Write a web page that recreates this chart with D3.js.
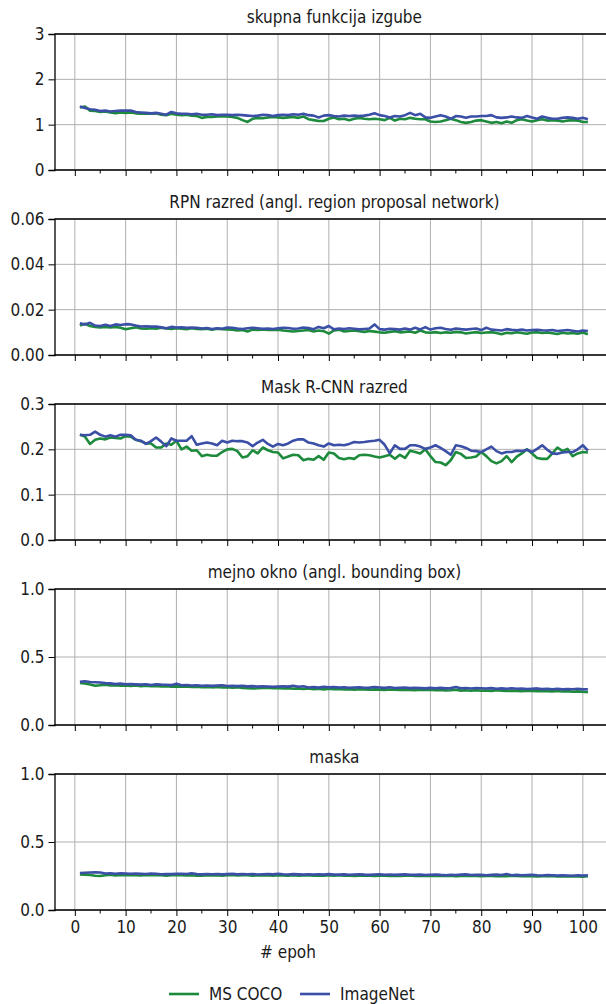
<!DOCTYPE html>
<html>
<meta charset="utf-8">
<head>
  <script src="https://d3js.org/d3.v7.min.js"></script>
  <style>
    body { margin: 0; background: #fff; }
    text { font-family: "DejaVu Sans", sans-serif; fill: #1a1a1a; }
  </style>
</head>
<body>
<svg id="graph" width="606" height="1004"></svg>
<script>
// epochs 1..101
var epochs = d3.range(1, 102);
var seriesNames = ["MS COCO", "ImageNet"];
var colors = ["#1d8a3c", "#3b4fa7"];

var totalCoco = [
  1.38,1.40,1.31,1.30,1.28,1.29,1.27,1.25,1.27,1.26,
  1.27,1.25,1.24,1.25,1.24,1.25,1.22,1.21,1.24,1.22,
  1.21,1.22,1.20,1.19,1.15,1.17,1.17,1.18,1.18,1.18,
  1.17,1.15,1.10,1.06,1.13,1.15,1.14,1.16,1.17,1.16,
  1.15,1.16,1.17,1.15,1.18,1.12,1.10,1.08,1.08,1.13,
  1.16,1.12,1.13,1.10,1.13,1.15,1.13,1.12,1.13,1.12,
  1.10,1.15,1.09,1.13,1.12,1.15,1.13,1.12,1.12,1.07,
  1.06,1.07,1.10,1.13,1.10,1.06,1.04,1.06,1.09,1.10,
  1.07,1.04,1.06,1.03,1.07,1.04,1.10,1.12,1.09,1.07,
  1.10,1.12,1.09,1.10,1.09,1.07,1.09,1.10,1.09,1.06,1.06];
var totalImagenet = [
  1.40,1.37,1.34,1.33,1.30,1.31,1.29,1.30,1.31,1.31,
  1.31,1.28,1.27,1.26,1.25,1.26,1.24,1.22,1.28,1.25,
  1.24,1.24,1.23,1.24,1.22,1.22,1.23,1.21,1.22,1.22,
  1.21,1.22,1.21,1.20,1.19,1.20,1.22,1.21,1.19,1.21,
  1.22,1.21,1.23,1.22,1.24,1.21,1.20,1.16,1.20,1.21,
  1.19,1.18,1.20,1.19,1.20,1.19,1.20,1.22,1.25,1.21,
  1.19,1.16,1.19,1.18,1.21,1.26,1.21,1.24,1.16,1.15,
  1.18,1.21,1.18,1.13,1.19,1.18,1.15,1.18,1.18,1.19,
  1.19,1.21,1.16,1.15,1.16,1.18,1.16,1.15,1.19,1.16,
  1.13,1.18,1.15,1.13,1.13,1.15,1.16,1.15,1.13,1.15,1.12];

var rpnCoco = [
  0.0130,0.0138,0.0128,0.0124,0.0122,0.0124,0.0121,0.0124,0.0120,0.0114,
  0.0118,0.0122,0.0117,0.0116,0.0118,0.0116,0.0120,0.0117,0.0115,0.0118,
  0.0116,0.0114,0.0118,0.0115,0.0114,0.0116,0.0112,0.0116,0.0114,0.0113,
  0.0112,0.0108,0.0110,0.0104,0.0112,0.0110,0.0113,0.0111,0.0110,0.0112,
  0.0108,0.0106,0.0104,0.0106,0.0108,0.0110,0.0104,0.0108,0.0105,0.0094,
  0.0108,0.0112,0.0104,0.0106,0.0108,0.0105,0.0102,0.0106,0.0103,0.0100,
  0.0098,0.0102,0.0105,0.0100,0.0102,0.0104,0.0098,0.0108,0.0100,0.0098,
  0.0101,0.0097,0.0100,0.0098,0.0102,0.0100,0.0095,0.0098,0.0101,0.0097,
  0.0099,0.0101,0.0097,0.0092,0.0098,0.0096,0.0100,0.0097,0.0094,0.0099,
  0.0100,0.0097,0.0099,0.0096,0.0093,0.0098,0.0095,0.0097,0.0094,0.0099,0.0092];
var rpnImagenet = [
  0.0140,0.0135,0.0142,0.0130,0.0128,0.0133,0.0128,0.0135,0.0132,0.0136,
  0.0135,0.0130,0.0126,0.0127,0.0125,0.0126,0.0122,0.0118,0.0124,0.0121,
  0.0122,0.0120,0.0121,0.0120,0.0117,0.0119,0.0115,0.0118,0.0116,0.0121,
  0.0120,0.0117,0.0115,0.0118,0.0120,0.0118,0.0116,0.0117,0.0115,0.0118,
  0.0120,0.0119,0.0116,0.0117,0.0121,0.0119,0.0114,0.0124,0.0118,0.0128,
  0.0113,0.0117,0.0115,0.0118,0.0116,0.0113,0.0115,0.0117,0.0135,0.0114,
  0.0112,0.0116,0.0114,0.0112,0.0117,0.0112,0.0120,0.0113,0.0123,0.0112,
  0.0118,0.0120,0.0115,0.0111,0.0117,0.0114,0.0112,0.0115,0.0117,0.0110,
  0.0120,0.0112,0.0110,0.0108,0.0114,0.0111,0.0109,0.0112,0.0108,0.0110,
  0.0111,0.0109,0.0108,0.0110,0.0106,0.0108,0.0110,0.0107,0.0104,0.0108,0.0106];

var clsCoco = [
  0.232,0.228,0.212,0.221,0.224,0.222,0.226,0.225,0.224,0.229,
  0.228,0.221,0.218,0.213,0.213,0.204,0.204,0.213,0.210,0.219,
  0.200,0.206,0.197,0.198,0.185,0.188,0.186,0.186,0.194,0.200,
  0.201,0.196,0.182,0.185,0.198,0.191,0.204,0.198,0.194,0.193,
  0.180,0.184,0.188,0.187,0.176,0.179,0.177,0.185,0.177,0.193,
  0.191,0.181,0.178,0.181,0.179,0.187,0.188,0.187,0.184,0.182,
  0.185,0.188,0.179,0.188,0.181,0.197,0.194,0.191,0.200,0.185,
  0.172,0.171,0.165,0.176,0.194,0.190,0.181,0.182,0.184,0.194,
  0.185,0.174,0.169,0.174,0.185,0.172,0.184,0.191,0.200,0.191,
  0.181,0.179,0.179,0.191,0.204,0.196,0.201,0.185,0.191,0.194,0.193];
var clsImagenet = [
  0.232,0.231,0.232,0.239,0.232,0.228,0.231,0.228,0.232,0.232,
  0.231,0.221,0.219,0.212,0.218,0.226,0.217,0.207,0.224,0.219,
  0.219,0.219,0.229,0.210,0.213,0.215,0.213,0.209,0.219,0.215,
  0.219,0.218,0.218,0.215,0.207,0.215,0.221,0.212,0.206,0.212,
  0.209,0.213,0.219,0.222,0.222,0.215,0.213,0.209,0.206,0.213,
  0.209,0.210,0.209,0.212,0.216,0.215,0.216,0.218,0.219,0.221,
  0.210,0.191,0.209,0.201,0.201,0.209,0.209,0.206,0.201,0.204,
  0.209,0.203,0.196,0.188,0.209,0.207,0.203,0.197,0.196,0.194,
  0.200,0.206,0.196,0.191,0.194,0.194,0.197,0.196,0.199,0.194,
  0.201,0.209,0.199,0.191,0.190,0.193,0.194,0.194,0.200,0.209,0.197];

var boxCoco = [
  0.310,0.305,0.298,0.288,0.292,0.296,0.290,0.293,0.289,0.291,
  0.288,0.290,0.286,0.289,0.285,0.287,0.283,0.285,0.282,0.284,
  0.281,0.283,0.279,0.282,0.278,0.280,0.277,0.279,0.276,0.278,
  0.275,0.277,0.273,0.271,0.268,0.270,0.273,0.274,0.270,0.272,
  0.268,0.271,0.266,0.269,0.265,0.268,0.264,0.267,0.262,0.266,
  0.263,0.265,0.261,0.264,0.260,0.263,0.262,0.259,0.262,0.260,
  0.258,0.261,0.259,0.257,0.260,0.258,0.256,0.259,0.257,0.259,
  0.255,0.258,0.254,0.256,0.259,0.253,0.255,0.252,0.256,0.253,
  0.254,0.251,0.255,0.252,0.250,0.253,0.251,0.249,0.252,0.250,
  0.248,0.251,0.249,0.247,0.250,0.246,0.249,0.245,0.247,0.244,0.242];
var boxImagenet = [
  0.318,0.322,0.316,0.314,0.312,0.308,0.306,0.302,0.304,0.300,
  0.301,0.299,0.297,0.300,0.294,0.299,0.297,0.296,0.293,0.304,
  0.292,0.294,0.290,0.292,0.289,0.291,0.288,0.290,0.292,0.287,
  0.289,0.286,0.288,0.284,0.286,0.282,0.285,0.283,0.281,0.283,
  0.285,0.282,0.289,0.281,0.285,0.276,0.279,0.275,0.281,0.277,
  0.279,0.276,0.277,0.274,0.276,0.278,0.274,0.275,0.279,0.276,
  0.273,0.277,0.272,0.274,0.276,0.271,0.274,0.272,0.269,0.273,
  0.270,0.273,0.269,0.271,0.279,0.270,0.272,0.268,0.271,0.270,
  0.268,0.271,0.267,0.269,0.266,0.270,0.266,0.268,0.265,0.267,
  0.269,0.264,0.266,0.263,0.266,0.262,0.265,0.263,0.266,0.262,0.263];

var maskCoco = [
  0.262,0.260,0.258,0.252,0.250,0.256,0.260,0.254,0.257,0.255,
  0.258,0.256,0.254,0.257,0.255,0.258,0.256,0.253,0.255,0.257,
  0.255,0.254,0.256,0.253,0.252,0.255,0.254,0.256,0.253,0.255,
  0.257,0.254,0.256,0.255,0.253,0.255,0.254,0.256,0.253,0.255,
  0.254,0.252,0.255,0.253,0.254,0.256,0.253,0.254,0.252,0.255,
  0.253,0.255,0.252,0.254,0.251,0.253,0.254,0.252,0.250,0.253,
  0.252,0.251,0.253,0.250,0.252,0.254,0.251,0.253,0.250,0.252,
  0.251,0.253,0.250,0.252,0.249,0.251,0.253,0.250,0.251,0.249,
  0.251,0.250,0.248,0.251,0.249,0.252,0.250,0.248,0.250,0.249,
  0.247,0.249,0.248,0.250,0.247,0.248,0.246,0.249,0.247,0.245,0.248];
var maskImagenet = [
  0.272,0.274,0.276,0.278,0.276,0.268,0.270,0.266,0.270,0.268,
  0.266,0.268,0.267,0.265,0.268,0.266,0.263,0.265,0.264,0.266,
  0.267,0.265,0.270,0.264,0.262,0.264,0.263,0.265,0.262,0.264,
  0.266,0.262,0.264,0.263,0.265,0.261,0.263,0.264,0.262,0.266,
  0.263,0.261,0.264,0.262,0.260,0.263,0.261,0.262,0.260,0.264,
  0.261,0.260,0.262,0.259,0.261,0.263,0.260,0.258,0.261,0.262,
  0.259,0.261,0.258,0.260,0.262,0.259,0.258,0.260,0.257,0.259,
  0.261,0.258,0.256,0.259,0.257,0.260,0.262,0.257,0.258,0.259,
  0.256,0.258,0.260,0.257,0.264,0.256,0.258,0.255,0.257,0.259,
  0.256,0.254,0.257,0.255,0.253,0.256,0.254,0.252,0.255,0.253,0.255];

var panelTitles = [
  "skupna funkcija izgube",
  "RPN razred (angl. region proposal network)",
  "Mask R-CNN razred",
  "mejno okno (angl. bounding box)",
  "maska"];
var yTicks = [
  [0, 1, 2, 3],
  [0, 0.02, 0.04, 0.06],
  [0, 0.1, 0.2, 0.3],
  [0, 0.5, 1.0],
  [0, 0.5, 1.0]];
var yFormats = ["d", ".2f", ".1f", ".1f", ".1f"];
var panelData = [
  [totalCoco, totalImagenet],
  [rpnCoco, rpnImagenet],
  [clsCoco, clsImagenet],
  [boxCoco, boxImagenet],
  [maskCoco, maskImagenet]];
var xTicks = d3.range(0, 101, 10);
var xMinor = d3.range(5, 101, 10);

var svg = d3.select("svg#graph");
var left = 54.5, pw = 558.8, ph = 136;
var tops = [34, 219, 404, 589, 774];

var xScale = d3.scaleLinear().domain([-4, 106]).range([0, pw]);

panelData.forEach(function(series, i) {
  var g = svg.append("g").attr("transform", `translate(${left}, ${tops[i]})`);
  var yt = yTicks[i];
  var yScale = d3.scaleLinear().domain([0, yt[yt.length - 1]]).range([ph, 0]);

  // grid
  g.append("g").selectAll("line.vg").data(xTicks).enter().append("line")
    .attr("x1", d => xScale(d)).attr("x2", d => xScale(d))
    .attr("y1", 0).attr("y2", ph)
    .attr("stroke", "#b0b0b0").attr("stroke-width", 1);
  g.append("g").selectAll("line.hg").data(yt).enter().append("line")
    .attr("x1", 0).attr("x2", pw)
    .attr("y1", d => yScale(d)).attr("y2", d => yScale(d))
    .attr("stroke", "#b0b0b0").attr("stroke-width", 1);

  // lines
  var line = d3.line()
    .x((d, j) => xScale(epochs[j]))
    .y(d => yScale(d));
  series.forEach(function(vals, k) {
    g.append("path")
      .datum(vals)
      .attr("d", line)
      .attr("fill", "none")
      .attr("stroke", colors[k])
      .attr("stroke-width", 2.6)
      .attr("stroke-linejoin", "round");
  });

  // y axis
  var yAxis = d3.axisLeft(yScale).tickValues(yt)
    .tickFormat(d3.format(yFormats[i])).tickSize(6).tickPadding(4);
  var ya = g.append("g").call(yAxis);
  ya.select(".domain").attr("stroke", "#000").attr("stroke-width", 1.3);
  ya.selectAll("text").attr("font-size", 17).style("font-stretch", "condensed");

  // x axis (major + minor)
  var xAxis = d3.axisBottom(xScale).tickValues(xTicks)
    .tickSize(6).tickPadding(5)
    .tickFormat(i === 4 ? d3.format("d") : "");
  var xa = g.append("g").attr("transform", `translate(0, ${ph})`).call(xAxis);
  xa.select(".domain").attr("d", `M0,0H${pw}`).attr("stroke", "#000").attr("stroke-width", 1.3);
  xa.selectAll("text").attr("font-size", 17).style("font-stretch", "condensed");
  g.append("g").attr("transform", `translate(0, ${ph})`)
    .selectAll("line").data(xMinor).enter().append("line")
    .attr("x1", d => xScale(d)).attr("x2", d => xScale(d))
    .attr("y1", 0).attr("y2", 3.5).attr("stroke", "#000").attr("stroke-width", 1);

  // top spine
  g.append("line").attr("x1", 0).attr("x2", pw).attr("y1", 0).attr("y2", 0)
    .attr("stroke", "#000").attr("stroke-width", 1.3);

  g.append("text")
    .attr("x", pw / 2 - 54.5 + 55).attr("y", -11)
    .attr("text-anchor", "middle").attr("font-size", 17)
    .style("font-stretch", "condensed")
    .text(panelTitles[i]);
});

svg.append("text").attr("x", 288).attr("y", 958)
  .attr("text-anchor", "middle").attr("font-size", 17)
  .style("font-stretch", "condensed").text("# epoh");

// legend
var legendX = [169, 300];
seriesNames.forEach(function(name, k) {
  svg.append("line").attr("x1", legendX[k]).attr("x2", legendX[k] + 30)
    .attr("y1", 994).attr("y2", 994)
    .attr("stroke", colors[k]).attr("stroke-width", 2.6);
  svg.append("text").attr("x", legendX[k] + 40).attr("y", 1000)
    .attr("font-size", 17).style("font-stretch", "condensed").text(name);
});
</script>
</body>
</html>
